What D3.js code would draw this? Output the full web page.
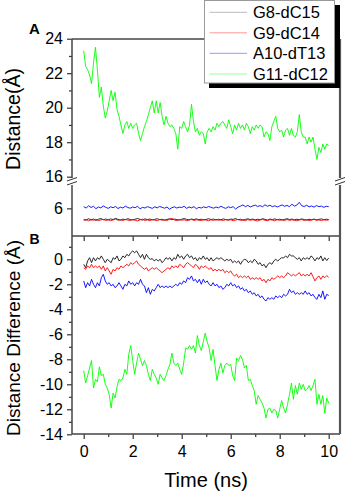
<!DOCTYPE html>
<html lang="en">
<head>
  <meta charset="UTF-8">
  <title>Distance</title>
  <script src="https://d3js.org/d3.v7.min.js"></script>
  <style>
    body { margin: 0; background: #fff; }
    text { font-family: "Liberation Sans", Arial, sans-serif; fill: #000; }
  </style>
</head>
<body>
  <div id="chart"></div>
  <script>
    const seriesNames = ["G8-dC15", "G9-dC14", "A10-dT13", "G11-dC12"];
    const seriesColors = ["#111111", "#ff0000", "#0000ff", "#00ff00"];
    const legendColors = ["#bbbbbb", "#ff9999", "#9999ff", "#99ff99"];

    // panel A, base pairs that stay close (one value every 0.1 ns)
    const distG8 = [5.36,5.32,5.40,5.33,5.38,5.30,5.37,5.41,5.34,5.38,
      5.33,5.39,5.35,5.42,5.36,5.31,5.38,5.34,5.40,5.35,
      5.33,5.37,5.41,5.36,5.32,5.39,5.35,5.38,5.33,5.36,
      5.40,5.34,5.37,5.31,5.36,5.39,5.34,5.38,5.35,5.32,
      5.37,5.41,5.36,5.33,5.38,5.35,5.39,5.34,5.37,5.33,
      5.36,5.40,5.35,5.38,5.32,5.37,5.34,5.39,5.35,5.33,
      5.38,5.36,5.41,5.34,5.37,5.32,5.36,5.39,5.35,5.38,
      5.33,5.37,5.34,5.40,5.36,5.32,5.38,5.35,5.39,5.34,
      5.37,5.33,5.36,5.40,5.35,5.38,5.33,5.37,5.34,5.39,
      5.35,5.32,5.37,5.34,5.38,5.33,5.36,5.39,5.34,5.37,5.35];
    const distG9 = [5.30,5.35,5.28,5.34,5.31,5.37,5.29,5.33,5.36,5.30,
      5.34,5.28,5.33,5.38,5.31,5.35,5.29,5.36,5.32,5.30,
      5.35,5.31,5.27,5.34,5.37,5.30,5.33,5.29,5.35,5.32,
      5.28,5.36,5.31,5.34,5.30,5.37,5.42,5.33,5.29,5.35,
      5.31,5.34,5.28,5.33,5.36,5.30,5.34,5.31,5.29,5.35,
      5.32,5.28,5.34,5.30,5.36,5.31,5.33,5.29,5.35,5.31,
      5.34,5.28,5.32,5.36,5.30,5.33,5.29,5.35,5.31,5.34,
      5.30,5.27,5.33,5.36,5.31,5.29,5.34,5.32,5.28,5.35,
      5.31,5.33,5.29,5.36,5.30,5.34,5.31,5.28,5.33,5.35,
      5.30,5.34,5.29,5.32,5.36,5.31,5.33,5.29,5.34,5.31,5.33];
    const distA10 = [6.10,6.02,6.15,6.05,6.12,5.98,6.08,6.03,6.14,6.06,
      6.00,6.09,6.04,6.11,5.99,6.07,6.02,6.13,6.05,6.01,
      6.08,6.04,6.12,5.97,6.06,6.02,6.10,6.05,6.00,6.09,
      6.03,6.11,6.06,6.01,6.08,5.95,6.04,6.09,6.02,6.07,
      6.05,6.12,6.00,6.08,6.03,6.10,5.98,6.06,6.02,6.09,
      6.04,6.11,6.06,6.01,6.08,6.03,6.12,6.05,6.00,6.09,
      6.04,6.10,5.96,6.07,6.13,6.20,6.10,6.17,6.08,6.14,
      6.19,6.11,6.16,6.09,6.21,6.12,6.18,6.10,6.15,6.08,
      6.14,6.20,6.12,6.17,6.10,6.24,6.13,6.19,6.35,6.15,
      6.11,6.18,6.09,6.14,6.07,6.16,6.10,6.13,6.06,6.12,6.10];

    // panel A, G11-dC12 (one value every 0.08 ns)
    const distG11 = [23.3,22.4,22.2,21.9,21.4,22.6,23.5,22.2,20.6,21.2,
      20.1,19.4,19.8,20.4,21.0,20.4,20.9,19.9,19.5,19.0,
      18.5,19.0,19.2,18.8,19.1,18.8,19.0,19.1,18.5,18.1,
      18.5,18.9,19.2,19.6,20.0,20.4,19.7,20.4,19.7,20.3,
      19.5,19.0,19.5,19.1,18.9,19.0,18.8,18.5,17.6,18.9,
      18.8,19.2,18.9,18.6,19.0,20.2,19.2,18.6,18.8,18.4,
      18.6,18.5,17.9,18.6,18.8,18.6,18.9,18.7,19.1,18.9,
      19.1,19.2,19.0,18.8,19.3,18.9,18.5,19.0,18.7,19.1,
      18.8,19.0,18.7,19.1,18.9,18.5,18.9,18.7,19.0,18.8,
      19.0,18.9,18.3,18.6,18.5,18.1,18.9,19.2,19.5,18.8,
      18.6,18.7,18.3,18.7,18.8,18.4,18.8,18.4,18.3,18.6,
      19.6,18.6,18.3,18.3,17.9,18.3,18.0,18.3,17.6,17.0,
      17.7,17.4,17.9,17.6,17.9,17.8];

    // panel B, distance differences (one value every 0.08 ns)
    const diffG8 = [-0.4,-0.67,-0.13,0.13,-0.27,0.13,-0.13,0.13,0.0,0.27,
      0.0,-0.27,0.0,-0.13,-0.27,0.13,0.0,0.27,-0.13,0.0,
      0.27,0.13,0.4,0.27,0.53,0.67,0.53,0.67,0.4,0.13,
      0.4,0.0,0.4,0.13,0.0,0.05,-0.13,0.0,-0.13,0.0,
      -0.27,-0.1,0.13,0.0,0.13,-0.13,0.13,0.0,0.4,0.13,
      0.27,0.0,0.27,0.4,0.13,0.27,0.0,0.13,-0.13,0.13,
      0.0,0.27,0.0,0.13,-0.13,0.13,-0.13,0.0,0.13,0.0,
      0.13,0.0,-0.13,0.0,-0.1,0.0,-0.27,-0.13,-0.27,-0.13,
      -0.4,-0.13,0.0,-0.05,-0.27,-0.13,-0.27,0.0,-0.13,-0.4,
      -0.27,-0.53,-0.4,-0.67,-0.4,-0.27,-0.4,-0.13,0.0,-0.13,
      0.0,0.13,0.1,0.27,0.13,0.4,0.27,0.27,0.13,0.0,
      0.13,-0.13,0.13,0.0,0.13,0.0,0.27,0.13,-0.13,0.13,
      0.0,0.27,-0.13,0.13,-0.1,0.1];
    const diffG9 = [-0.67,-0.8,-0.53,-0.67,-0.4,-0.67,-0.53,-0.67,-0.53,-0.8,
      -0.53,-0.93,-0.67,-0.93,-1.2,-0.8,-0.93,-0.67,-0.8,-0.53,
      -0.67,-0.53,-0.4,-0.53,-0.27,-0.4,-0.27,-0.13,-0.4,-0.53,
      -0.67,-0.8,-0.67,-0.93,-0.8,-0.67,-0.8,-0.67,-0.8,-0.93,
      -1.07,-0.93,-0.8,-0.67,-0.8,-0.53,-0.67,-0.53,-0.67,-0.4,
      -0.53,-0.67,-0.4,-0.27,-0.4,-0.53,-0.67,-0.4,-0.53,-0.8,
      -0.53,-0.67,-0.53,-0.67,-0.8,-0.67,-0.93,-0.8,-0.93,-0.8,
      -0.93,-0.8,-1.07,-0.93,-1.07,-0.93,-1.2,-1.33,-1.2,-1.47,
      -1.33,-1.47,-1.33,-1.47,-1.33,-1.6,-1.47,-1.6,-1.47,-1.6,
      -1.47,-1.73,-1.6,-1.87,-1.6,-1.73,-1.47,-1.6,-1.47,-1.33,
      -1.47,-1.33,-1.47,-1.33,-1.07,-1.2,-1.33,-1.2,-1.33,-1.2,
      -1.07,-1.33,-1.2,-1.33,-1.2,-1.33,-1.07,-1.4,-1.73,-1.47,
      -1.33,-1.6,-1.33,-1.47,-1.3,-1.45];
    const diffA10 = [-1.73,-2.27,-1.87,-2.13,-1.6,-2.0,-2.27,-1.87,-2.13,-1.47,
      -1.2,-1.73,-2.0,-1.87,-2.13,-2.0,-2.27,-2.13,-1.87,-2.13,
      -2.4,-2.0,-2.13,-1.73,-2.0,-1.87,-2.13,-1.87,-2.0,-1.6,
      -2.0,-2.13,-2.67,-2.27,-2.8,-2.4,-2.53,-2.27,-2.0,-2.27,
      -2.13,-2.27,-2.13,-2.27,-2.13,-2.27,-2.13,-2.0,-2.13,-1.87,
      -2.0,-1.73,-1.87,-1.47,-1.6,-1.33,-1.73,-1.6,-1.87,-1.6,
      -2.0,-1.6,-1.87,-1.73,-2.0,-2.13,-1.87,-2.13,-2.0,-2.27,
      -2.13,-2.4,-2.27,-2.0,-2.13,-1.87,-2.13,-2.0,-2.27,-2.13,
      -2.4,-2.27,-2.53,-2.4,-2.67,-2.53,-2.8,-2.67,-2.93,-2.8,
      -3.07,-2.93,-3.2,-3.33,-3.07,-3.2,-3.07,-3.2,-2.93,-3.07,
      -2.93,-3.07,-2.8,-2.93,-2.8,-2.4,-2.67,-2.53,-2.8,-2.67,
      -2.8,-2.67,-2.8,-2.53,-2.8,-2.67,-2.93,-2.8,-3.07,-3.2,
      -2.8,-3.07,-2.53,-3.2,-2.8,-2.9];
    const diffG11 = [-8.9,-9.9,-9.3,-8.7,-8.1,-10.3,-9.6,-9.8,-8.6,-9.3,
      -9.2,-10.0,-10.3,-10.8,-11.9,-10.7,-11.1,-10.2,-9.6,-9.7,
      -9.5,-8.8,-9.2,-7.6,-6.9,-8.1,-9.2,-8.3,-7.5,-8.0,
      -8.5,-8.1,-8.5,-9.2,-9.7,-8.8,-9.2,-9.5,-10.0,-9.2,
      -9.5,-9.7,-9.3,-8.8,-8.4,-7.5,-8.3,-8.5,-8.3,-8.8,
      -9.2,-8.3,-7.1,-7.2,-6.9,-7.2,-6.9,-7.5,-6.1,-6.9,
      -7.3,-6.6,-5.9,-6.6,-7.1,-8.1,-7.2,-8.5,-9.7,-8.8,
      -8.3,-9.1,-8.5,-8.3,-8.5,-8.4,-9.3,-9.7,-7.9,-8.1,
      -7.7,-8.0,-8.7,-8.5,-9.7,-9.6,-10.1,-10.5,-11.6,-10.9,
      -11.2,-11.5,-11.9,-12.7,-12.0,-11.9,-12.3,-12.0,-12.1,-12.7,
      -12.0,-11.3,-11.9,-12.3,-11.6,-10.8,-9.9,-11.2,-10.1,-10.8,
      -9.9,-10.4,-10.0,-10.5,-10.4,-10.1,-10.5,-10.1,-9.6,-11.6,
      -10.8,-11.6,-10.9,-12.3,-11.1,-11.5];

    const xTicks = [0, 2, 4, 6, 8, 10];
    const xMinorTicks = [1, 3, 5, 7, 9];
    const yTicksAUpper = [16, 18, 20, 22, 24];
    const yMinorAUpper = [17, 19, 21, 23];
    const yTicksALower = [6];
    const yTicksB = [0, -2, -4, -6, -8, -10, -12, -14];
    const yMinorB = [1, -1, -3, -5, -7, -9, -11, -13];

    drawChart();

    function toPoints(values) {
      const step = 10 / (values.length - 1);
      return values.map((v, i) => ({ t: i * step, v: v }));
    }

    function drawChart() {
      const svgWidth = 346;
      const svgHeight = 491;
      const left = 72, right = 340;
      const topA = 39, midY = 236, bottomB = 434;
      const breakTop = 178, breakBottom = 185;
      const axisColor = "#444";

      const svg = d3.select("#chart")
        .append("svg")
        .attr("width", svgWidth)
        .attr("height", svgHeight);

      const xScale = d3.scaleLinear().domain([0, 10]).range([83.7, 328.7]);
      const yUpper = d3.scaleLinear().domain([16, 24]).range([176.7, 38.7]);
      const yLower = d3.scaleLinear().domain([4.38, 7.5]).range([236.3, 182.5]);
      const yB = d3.scaleLinear().domain([-14, 1.92]).range([434.3, 235.3]);

      // series
      const lineUpper = d3.line().x(d => xScale(d.t)).y(d => yUpper(d.v));
      const lineLower = d3.line().x(d => xScale(d.t)).y(d => yLower(d.v));
      const lineB = d3.line().x(d => xScale(d.t)).y(d => yB(d.v));

      [distG8, distG9, distA10].forEach((s, i) => {
        svg.append("path")
          .attr("d", lineLower(toPoints(s)))
          .attr("fill", "none")
          .attr("stroke", seriesColors[i])
          .attr("stroke-width", 0.9);
      });
      svg.append("path")
        .attr("d", lineUpper(toPoints(distG11)))
        .attr("fill", "none")
        .attr("stroke", seriesColors[3])
        .attr("stroke-width", 0.9);

      [diffG8, diffG9, diffA10, diffG11].forEach((s, i) => {
        svg.append("path")
          .attr("d", lineB(toPoints(s)))
          .attr("fill", "none")
          .attr("stroke", seriesColors[i])
          .attr("stroke-width", 0.9);
      });

      // axes (ticks + labels)
      const fmt = d => String(d);
      function styleAxis(g) {
        g.select(".domain").remove();
        g.selectAll("line").attr("stroke", "#333").attr("stroke-width", 1.2);
        g.selectAll("text").attr("font-size", "16px").attr("fill", "#000");
      }

      svg.append("g").attr("transform", `translate(${left},0)`)
        .call(d3.axisLeft(yUpper).tickValues(yTicksAUpper).tickSize(5).tickPadding(4).tickFormat(fmt))
        .call(styleAxis);
      svg.append("g").attr("transform", `translate(${left},0)`)
        .call(d3.axisLeft(yUpper).tickValues(yMinorAUpper).tickSize(3).tickFormat(""))
        .call(styleAxis);
      svg.append("g").attr("transform", `translate(${left},0)`)
        .call(d3.axisLeft(yLower).tickValues(yTicksALower).tickSize(5).tickPadding(4).tickFormat(fmt))
        .call(styleAxis);
      svg.append("g").attr("transform", `translate(${left},0)`)
        .call(d3.axisLeft(yB).tickValues(yTicksB).tickSize(5).tickPadding(4).tickFormat(fmt))
        .call(styleAxis);
      svg.append("g").attr("transform", `translate(${left},0)`)
        .call(d3.axisLeft(yB).tickValues(yMinorB).tickSize(3).tickFormat(""))
        .call(styleAxis);

      svg.append("g").attr("transform", `translate(0,${midY})`)
        .call(d3.axisBottom(xScale).tickValues(xTicks).tickSize(5).tickFormat(""))
        .call(styleAxis);
      svg.append("g").attr("transform", `translate(0,${midY})`)
        .call(d3.axisBottom(xScale).tickValues(xMinorTicks).tickSize(3).tickFormat(""))
        .call(styleAxis);
      svg.append("g").attr("transform", `translate(0,${bottomB})`)
        .call(d3.axisBottom(xScale).tickValues(xTicks).tickSize(5).tickPadding(7).tickFormat(fmt))
        .call(styleAxis);
      svg.append("g").attr("transform", `translate(0,${bottomB})`)
        .call(d3.axisBottom(xScale).tickValues(xMinorTicks).tickSize(3).tickFormat(""))
        .call(styleAxis);

      // frame
      const frame = [
        [left, topA, right, topA],
        [left, midY, right, midY],
        [left, bottomB, right, bottomB],
        [left, topA, left, breakTop],
        [left, breakBottom, left, bottomB]
      ];
      frame.forEach(f => {
        svg.append("line")
          .attr("x1", f[0]).attr("y1", f[1]).attr("x2", f[2]).attr("y2", f[3])
          .attr("stroke", axisColor).attr("stroke-width", 1.5);
      });
      [[topA, breakTop], [breakBottom, bottomB]].forEach(s => {
        svg.append("line")
          .attr("x1", right).attr("y1", s[0]).attr("x2", right).attr("y2", s[1])
          .attr("stroke", "#555").attr("stroke-width", 2.2);
      });

      // axis break marks
      [left, right].forEach(x => {
        [0, 4].forEach(o => {
          svg.append("line")
            .attr("x1", x - 5).attr("y1", 181 + o)
            .attr("x2", x + 5).attr("y2", 177.5 + o)
            .attr("stroke", "#333").attr("stroke-width", 1);
        });
      });

      // titles
      svg.append("text")
        .attr("transform", "translate(20,119) rotate(-90)")
        .attr("text-anchor", "middle")
        .attr("font-size", "19.5px")
        .text("Distance(Å)");
      svg.append("text")
        .attr("transform", "translate(20,338) rotate(-90)")
        .attr("text-anchor", "middle")
        .attr("font-size", "19px")
        .text("Distance Difference (Å)");
      svg.append("text")
        .attr("x", 206).attr("y", 487)
        .attr("text-anchor", "middle")
        .attr("font-size", "20px")
        .text("Time (ns)");
      svg.append("text")
        .attr("x", 29).attr("y", 33.5)
        .attr("font-size", "15px").attr("font-weight", "bold")
        .text("A");
      svg.append("text")
        .attr("x", 29.5).attr("y", 244)
        .attr("font-size", "14px").attr("font-weight", "bold")
        .text("B");

      // legend
      const legend = svg.append("g");
      legend.append("rect")
        .attr("x", 209).attr("y", 5).attr("width", 131).attr("height", 83)
        .attr("fill", "#000");
      legend.append("rect")
        .attr("x", 204.5).attr("y", 0.5).attr("width", 130).attr("height", 82.5)
        .attr("fill", "#fff").attr("stroke", "#999").attr("stroke-width", 1);
      const rowY = [12.3, 32.8, 53.3, 74];
      seriesNames.forEach((name, i) => {
        legend.append("line")
          .attr("x1", 209.5).attr("x2", 247)
          .attr("y1", rowY[i]).attr("y2", rowY[i])
          .attr("stroke", legendColors[i]).attr("stroke-width", 1);
        legend.append("text")
          .attr("x", 253).attr("y", rowY[i])
          .attr("dy", "0.36em")
          .attr("font-size", "16.5px")
          .text(name);
      });
    }
  </script>
</body>
</html>
